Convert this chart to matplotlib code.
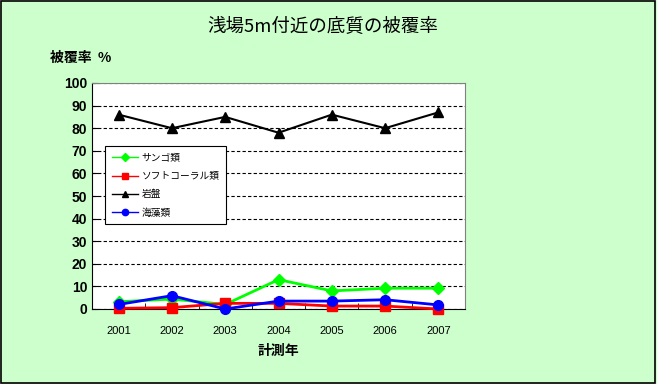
import matplotlib.pyplot as plt
from matplotlib.patches import Rectangle

plt.rcParams['font.family'] = ['Noto Sans CJK JP', 'DejaVu Sans']

years = ['2001', '2002', '2003', '2004', '2005', '2006', '2007']
sango = [3.2, 4.4, 2.0, 13.0, 8.0, 9.2, 9.2]
soft_coral = [0.3, 0.6, 2.5, 2.5, 1.3, 1.3, 0.0]
ganban = [86, 80, 85, 78, 86, 80, 87]
kaiso = [2.0, 5.9, 0.0, 3.5, 3.5, 4.1, 1.8]

bg = '#CCFFCC'
fig = plt.figure(figsize=(6.57, 3.84), dpi=100, facecolor=bg)
fig.patches.append(Rectangle((0.002, 0.003), 0.995, 0.994, transform=fig.transFigure,
                             fill=False, edgecolor='black', linewidth=1.2))

W, H = 657, 384
ax = fig.add_axes([92 / W, 1 - 309 / H, (465 - 92) / W, (309 - 83) / H])
ax.set_facecolor('white')

x = range(len(years))
ax.plot(x, sango, color='#00FF00', marker='D', markersize=6, linewidth=2, label='サンゴ類', clip_on=False, zorder=3)
ax.plot(x, soft_coral, color='#FF0000', marker='s', markersize=7, linewidth=2, label='ソフトコーラル類', clip_on=False, zorder=3)
ax.plot(x, ganban, color='black', marker='^', markersize=7, linewidth=1.5, label='岩盤', clip_on=False, zorder=3)
ax.plot(x, kaiso, color='#0000FF', marker='o', markersize=7, linewidth=2, label='海藻類', clip_on=False, zorder=4)

ax.set_xlim(-0.5, 6.5)
ax.set_ylim(0, 100)
ax.set_yticks(range(0, 101, 10))
ax.set_xticks(list(x))
ax.set_xticklabels(years, fontsize=8, family=['Liberation Sans'])
ax.set_xticks([i + 0.5 for i in range(-1, 7)], minor=True)
ax.tick_params(axis='x', which='major', length=0, pad=12)
ax.tick_params(axis='x', which='minor', length=4, direction='in')
ax.tick_params(axis='y', length=4, direction='in', labelsize=10)
for t in ax.get_yticklabels():
    t.set_fontweight('bold')
    t.set_family(['Liberation Sans'])
ax.yaxis.grid(True, linestyle=(0, (3, 2)), color='black', linewidth=0.8)
ax.set_axisbelow(True)
for s in ['top', 'right']:
    ax.spines[s].set_color('#808080')
ax.spines['left'].set_color('black')
ax.spines['bottom'].set_color('black')

leg = ax.legend(loc='upper left', bbox_to_anchor=(13 / 373, (309 - 146) / 226), borderaxespad=0,
                fontsize=7, frameon=True, fancybox=False, edgecolor='black', framealpha=1,
                markerscale=0.65, handlelength=2.7, handletextpad=0.35, borderpad=0.7,
                labelspacing=0.85)
leg.get_frame().set_linewidth(0.8)
for ln in leg.get_lines():
    ln.set_linewidth(1)

fig.text(323 / W, 1 - 27 / H, '浅場5m付近の底質の被覆率', ha='center', va='center', fontsize=13.3)
fig.text(50 / W, 1 - 58 / H, '被覆率  %', ha='left', va='center', fontsize=10, fontweight='bold')
fig.text(278 / W, 1 - 351 / H, '計測年', ha='center', va='center', fontsize=10, fontweight='bold')

fig.savefig('out.png', dpi=100, facecolor=bg)
